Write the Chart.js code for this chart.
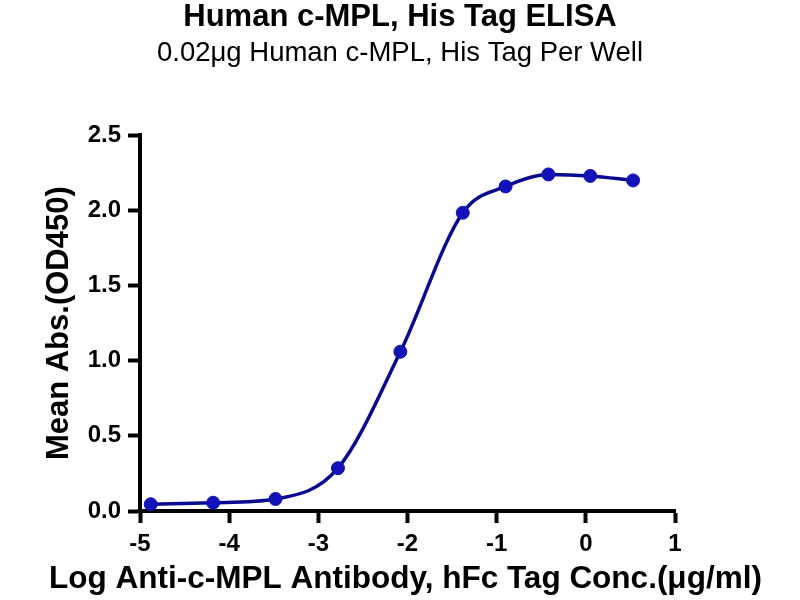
<!DOCTYPE html>
<html>
<head>
<meta charset="utf-8">
<title>Human c-MPL, His Tag ELISA</title>
<script src="https://cdn.jsdelivr.net/npm/chart.js@4.4.1/dist/chart.umd.min.js"></script>
<style>
  html, body { margin: 0; padding: 0; background: #ffffff; }
  #wrap { width: 800px; height: 600px; }
</style>
</head>
<body>
<div id="wrap"><canvas id="elisaChart" width="800" height="600"></canvas></div>
<script>
// Data
const logConc = [-4.88, -4.18, -3.48, -2.78, -2.08, -1.38, -0.90, -0.42, 0.05, 0.53];
const meanAbs = [0.045, 0.055, 0.08, 0.285, 1.06, 1.985, 2.16, 2.24, 2.23, 2.20];

const xTicks = [-5, -4, -3, -2, -1, 0, 1];
const yTicks = [0.0, 0.5, 1.0, 1.5, 2.0, 2.5];

const titleText = 'Human c-MPL, His Tag ELISA';
const subtitleText = '0.02\u03bcg Human c-MPL, His Tag Per Well';
const xTitle = 'Log Anti-c-MPL Antibody, hFc Tag Conc.(\u03bcg/ml)';
const yTitle = 'Mean Abs.(OD450)';

const FONT = "'Liberation Sans', Arial, sans-serif";
const LINE_COLOR = '#0a0a90';
const POINT_COLOR = '#1212b8';

const points = logConc.map((x, i) => ({ x: x, y: meanAbs[i] }));

const axisCommon = {
  border: { display: true, color: '#000000', width: 4 },
  grid: {
    display: true,
    drawOnChartArea: false,
    drawTicks: true,
    tickLength: 12,
    tickWidth: 4,
    tickColor: '#000000'
  }
};

// the x title is wider than the plot, so Chart.js would squeeze it; draw it here instead
const xTitlePlugin = {
  id: 'xTitlePlugin',
  afterDraw(chart) {
    const c = chart.ctx;
    const area = chart.chartArea;
    c.save();
    c.fillStyle = '#000000';
    c.font = 'bold 31.5px ' + FONT;
    c.textAlign = 'center';
    c.textBaseline = 'middle';
    c.fillText(xTitle, (area.left + area.right) / 2 - 2, 579);
    c.restore();
  }
};

const ctx = document.getElementById('elisaChart');

new Chart(ctx, {
  type: 'scatter',
  data: {
    datasets: [
      {
        label: 'Mean Abs.',
        data: points,
        showLine: true,
        borderColor: LINE_COLOR,
        borderWidth: 3.5,
        cubicInterpolationMode: 'monotone',
        pointRadius: 6.5,
        pointHoverRadius: 6.5,
        pointBackgroundColor: POINT_COLOR,
        pointBorderColor: POINT_COLOR,
        pointBorderWidth: 1
      }
    ]
  },
  options: {
    responsive: false,
    animation: false,
    devicePixelRatio: 1,
    layout: { padding: 0 },
    plugins: {
      legend: { display: false },
      tooltip: { enabled: false },
      title: {
        display: true,
        text: titleText,
        color: '#000000',
        font: { family: FONT, size: 31, weight: 'bold', lineHeight: 1.1 },
        padding: { top: 0, bottom: 1 }
      },
      subtitle: {
        display: true,
        text: subtitleText,
        color: '#000000',
        font: { family: FONT, size: 27.5, weight: 'normal', lineHeight: 1.1 },
        padding: { top: 3, bottom: 67 }
      }
    },
    scales: {
      x: {
        type: 'linear',
        min: -5,
        max: 1,
        afterBuildTicks: (scale) => { scale.ticks = xTicks.map(v => ({ value: v })); },
        afterFit: (scale) => { scale.height = 89; },
        ticks: {
          color: '#000000',
          padding: 7,
          font: { family: FONT, size: 24, weight: 'bold' },
          callback: (v) => String(v)
        },
        title: { display: false },
        ...axisCommon
      },
      y: {
        type: 'linear',
        position: 'left',
        min: 0,
        max: 2.5,
        afterBuildTicks: (scale) => { scale.ticks = yTicks.map(v => ({ value: v })); },
        afterFit: (scale) => { scale.width = 140; },
        ticks: {
          color: '#000000',
          padding: 7,
          font: { family: FONT, size: 24, weight: 'bold' },
          callback: (v) => Number(v).toFixed(1)
        },
        title: {
          display: true,
          text: yTitle,
          color: '#000000',
          font: { family: FONT, size: 31, weight: 'bold', lineHeight: 1.2 },
          padding: { top: 41, bottom: 0 }
        },
        ...axisCommon
      },
      // empty right-hand box, only there to keep the plot area at the reference width
      spacer: {
        type: 'linear',
        position: 'right',
        display: true,
        afterFit: (scale) => { scale.width = 125; },
        ticks: { display: false },
        grid: { display: false, drawTicks: false },
        border: { display: false },
        title: { display: false }
      }
    }
  },
  plugins: [xTitlePlugin]
});
</script>
</body>
</html>
